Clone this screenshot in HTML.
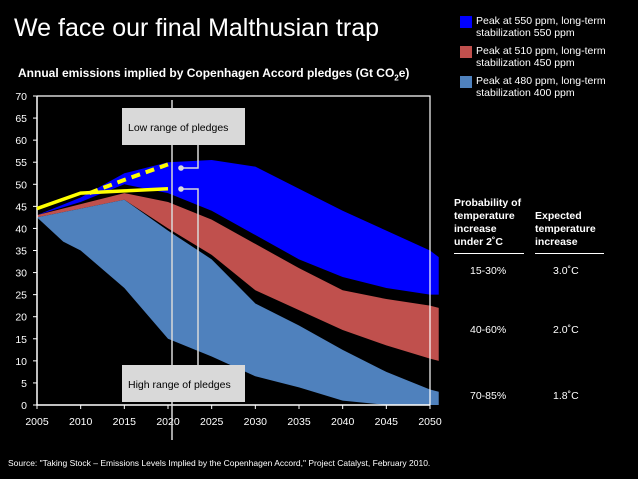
<!DOCTYPE html>
<html><head><meta charset="utf-8"><style>
html,body{margin:0;padding:0;background:#000;}
body{width:638px;height:479px;overflow:hidden;position:relative;font-family:"Liberation Sans",sans-serif;color:#fff;}
.abs{position:absolute;}
</style></head><body>
<div class="abs" style="left:14px;top:14px;font-size:25px;white-space:nowrap;">We face our final Malthusian trap</div>
<div class="abs" style="left:18px;top:66px;font-size:12px;font-weight:bold;white-space:nowrap;">Annual emissions implied by Copenhagen Accord pledges (Gt CO<sub style="font-size:8px">2</sub>e)</div>

<div class="abs" style="left:460px;top:15px;font-size:10.5px;line-height:12px;">
 <div style="position:relative;padding-left:16px;height:30px;"><span style="position:absolute;left:0;top:1px;width:12px;height:12px;background:#0000ff"></span>Peak at 550 ppm, long-term<br>stabilization 550 ppm</div>
 <div style="position:relative;padding-left:16px;height:30px;"><span style="position:absolute;left:0;top:1px;width:12px;height:12px;background:#c0504d"></span>Peak at 510 ppm, long-term<br>stabilization 450 ppm</div>
 <div style="position:relative;padding-left:16px;height:30px;"><span style="position:absolute;left:0;top:1px;width:12px;height:12px;background:#4f81bd"></span>Peak at 480 ppm, long-term<br>stabilization 400 ppm</div>
</div>

<div class="abs" style="left:454px;top:197px;font-size:10.5px;font-weight:bold;line-height:13px;width:70px;border-bottom:1.5px solid #fff;padding-bottom:4px;">Probability of<br>temperature<br>increase<br>under 2˚C</div>
<div class="abs" style="left:535px;top:210px;font-size:10.5px;font-weight:bold;line-height:13px;width:69px;border-bottom:1.5px solid #fff;padding-bottom:4px;">Expected<br>temperature<br>increase</div>
<div class="abs" style="left:470px;top:265px;font-size:10.5px;">15-30%</div>
<div class="abs" style="left:553px;top:265px;font-size:10.5px;">3.0˚C</div>
<div class="abs" style="left:470px;top:324px;font-size:10.5px;">40-60%</div>
<div class="abs" style="left:553px;top:324px;font-size:10.5px;">2.0˚C</div>
<div class="abs" style="left:470px;top:390px;font-size:10.5px;">70-85%</div>
<div class="abs" style="left:553px;top:390px;font-size:10.5px;">1.8˚C</div>

<div class="abs" style="left:8px;top:458px;font-size:8.5px;white-space:nowrap;">Source: "Taking Stock – Emissions Levels Implied by the Copenhagen Accord," Project Catalyst, February 2010.</div>

<svg class="abs" style="left:0;top:0" width="638" height="479" id="chart"></svg>
<script>
const years = [2005,2010,2015,2020,2025,2030,2035,2040,2045,2050,2051];
const blueUpper = [43,47,52.5,55,55.5,54,49,44,39.5,35,33.5];
const blueLower = [43,46,50,48,44,38.5,33,29,26.5,25,25];
const redUpper = [43,45.5,48,46,42,36.5,31,26,24,22.5,22];
const redLower = [42.5,44.5,46.5,40,34,26,21.5,17,13.5,10.5,10];
const lightUpper = [42.5,44.5,46.5,39.5,33,23,18,12.5,7.5,3.5,3];
const lightLowerYears = [2005,2008,2010,2015,2020,2025,2030,2035,2040,2045,2050,2051];
const lightLower = [42.5,37,35,26.5,15,11,6.5,4,1,0,0,0];
const highYears = [2005,2010,2015,2020];
const highPledge = [44.5,48,48.5,49];
const lowYears = [2011,2015,2020];
const lowPledge = [48,51,54.5];
const yTicks = [0,5,10,15,20,25,30,35,40,45,50,55,60,65,70];
const xTicks = [2005,2010,2015,2020,2025,2030,2035,2040,2045,2050];

const svg = document.getElementById('chart');
const NS = 'http://www.w3.org/2000/svg';
const x = yr => 37 + (yr-2005)*(393/45);
const y = v => 405 - v*(309/70);
function mk(tag, attrs){const e=document.createElementNS(NS,tag);for(const k in attrs)e.setAttribute(k,attrs[k]);svg.appendChild(e);return e;}
function band(xsU, up, xsL, lo, color, name){
  let d='M'+xsU.map((yr,i)=>x(yr)+','+y(up[i])).join('L');
  for(let i=xsL.length-1;i>=0;i--) d+='L'+x(xsL[i])+','+y(lo[i]);
  const p=mk('path',{d:d+'Z',fill:color});
  
  
}
band(years,blueUpper,years,blueLower,'#0000ff','band-550');
band(years,redUpper,years,redLower,'#c0504d','band-510');
band(years,lightUpper,lightLowerYears,lightLower,'#4f81bd','band-480');

const fr=mk('path',{d:`M${x(2005)},${y(70)}H${x(2050)}V${y(0)}`,fill:'none',stroke:'#fff','stroke-width':1.2});


const ax=mk('path',{d:`M${x(2005)},${y(70)}V${y(0)}H${x(2050)}`,fill:'none',stroke:'#fff','stroke-width':1.5});


yTicks.forEach(v=>{
  mk('line',{x1:x(2005)-4,x2:x(2005),y1:y(v),y2:y(v),stroke:'#fff'});
  const t=mk('text',{x:x(2005)-10,y:y(v)+4,'text-anchor':'end','font-size':10.5,fill:'#fff','font-family':'Liberation Sans'});
  t.textContent=v;
  
  
});
xTicks.forEach(yr=>{
  mk('line',{x1:x(yr),x2:x(yr),y1:y(0),y2:y(0)+4,stroke:'#fff'});
  const t=mk('text',{x:x(yr),y:y(0)+20,'text-anchor':'middle','font-size':10.5,fill:'#fff','font-family':'Liberation Sans'});
  t.textContent=yr;
  
  
});
const hl=mk('polyline',{points:highYears.map((yr,i)=>x(yr)+','+y(highPledge[i])).join(' '),fill:'none',stroke:'#ffff00','stroke-width':3.5});


const ll=mk('polyline',{points:lowYears.map((yr,i)=>x(yr)+','+y(lowPledge[i])).join(' '),fill:'none',stroke:'#ffff00','stroke-width':4,'stroke-dasharray':'9,6'});


mk('line',{x1:172,x2:172,y1:100,y2:440,stroke:'#d9d9d9','stroke-width':1.5});
mk('path',{d:'M198,145V168H181',fill:'none',stroke:'#d9d9d9','stroke-width':1.5});
mk('path',{d:'M198,365V189H181',fill:'none',stroke:'#d9d9d9','stroke-width':1.5});
mk('circle',{cx:181,cy:168,r:2.8,fill:'#d9d9d9'});
mk('circle',{cx:181,cy:189,r:2.8,fill:'#d9d9d9'});
function box(yy,label,name){
  const r=mk('rect',{x:122,y:yy,width:123,height:37,fill:'#d9d9d9'});
  
  
  const t=mk('text',{x:128,y:yy+23,'font-size':10.5,fill:'#000','font-family':'Liberation Sans'});
  t.textContent=label;
  
  
}
box(108,'Low range of pledges','low-range-box');
box(365,'High range of pledges','high-range-box');
</script>
</body></html>
